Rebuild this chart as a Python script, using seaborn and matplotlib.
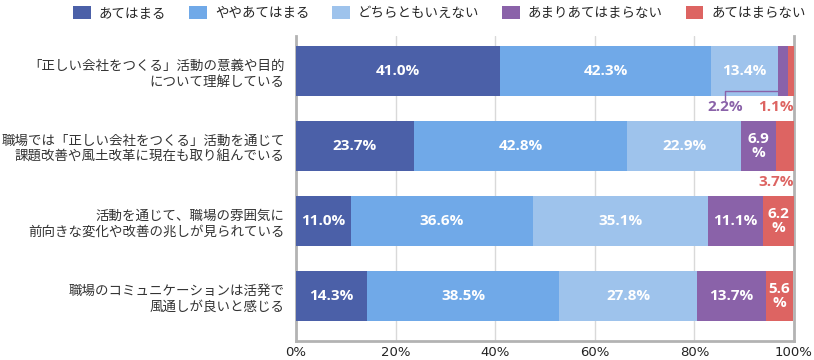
import numpy as np
import pandas as pd
import matplotlib
matplotlib.use("Agg")
import matplotlib.pyplot as plt
import seaborn as sns
from matplotlib.patches import Patch

categories = [
    "「正しい会社をつくる」活動の意義や目的\nについて理解している",
    "職場では「正しい会社をつくる」活動を通じて\n課題改善や風土改革に現在も取り組んでいる",
    "活動を通じて、職場の雰囲気に\n前向きな変化や改善の兆しが見られている",
    "職場のコミュニケーションは活発で\n風通しが良いと感じる",
]
series = ["あてはまる", "ややあてはまる", "どちらともいえない", "あまりあてはまらない", "あてはまらない"]
colors = ["#4b60a8", "#70a9e8", "#9ec3ec", "#8a62a9", "#dd6462"]

atehamaru = [41.0, 23.7, 11.0, 14.3]
yaya = [42.3, 42.8, 36.6, 38.5]
dochira = [13.4, 22.9, 35.1, 27.8]
amari = [2.2, 6.9, 11.1, 13.7]
atehamaranai = [1.1, 3.7, 6.2, 5.6]

xticks = [0, 20, 40, 60, 80, 100]
xticklabels = ["0%", "20%", "40%", "60%", "80%", "100%"]

sns.set_theme(style="white")
plt.rcParams['font.family'] = ['Noto Sans CJK JP', 'DejaVu Sans']
num_font = ['Open Sans', 'DejaVu Sans']
lbl_size = 11

values = np.array([atehamaru, yaya, dochira, amari, atehamaranai])
cum = values.cumsum(axis=0)

fig = plt.figure(figsize=(8.14, 3.6), dpi=100)
ax = fig.add_axes([0.3636, 0.053, 0.6118, 0.847])

# stacked bars: draw cumulative totals from the largest down
for i in range(len(series) - 1, -1, -1):
    df = pd.DataFrame({"cat": categories, "val": cum[i]})
    sns.barplot(data=df, x="val", y="cat", orient="h", color=colors[i],
                saturation=1, width=0.66, linewidth=0, ax=ax, zorder=3)

# labels inside segments
for i in range(len(series)):
    for j in range(len(categories)):
        v = values[i, j]
        start = cum[i, j] - v
        mid = start + v / 2
        if v >= 10:
            ax.text(mid, j, f"{v:.1f}%", ha="center", va="center", color="white",
                    fontsize=lbl_size, fontweight="bold", family=num_font, zorder=5)
        elif v >= 5:
            ax.text(mid, j, f"{v:.1f}\n%", ha="center", va="center", color="white",
                    fontsize=lbl_size, fontweight="bold", family=num_font,
                    linespacing=1.0, zorder=5)

# small values outside the bars
ax.text(86.2, 0.48, "2.2%", ha="center", va="center", color=colors[3],
        fontsize=lbl_size, fontweight="bold", family=num_font)
ax.plot([86.2, 86.2, 96.7], [0.39, 0.27, 0.27], color=colors[3], lw=1, zorder=6)
ax.text(99.9, 0.48, "1.1%", ha="right", va="center", color=colors[4],
        fontsize=lbl_size, fontweight="bold", family=num_font)
ax.text(99.9, 1.48, "3.7%", ha="right", va="center", color=colors[4],
        fontsize=lbl_size, fontweight="bold", family=num_font)

ax.set_xlim(0, 100)
ax.set_ylim(3.6, -0.47)
ax.set_xticks(xticks)
ax.set_xticklabels(xticklabels, fontsize=9.5, color="#222222", family=['DejaVu Sans'])
ax.set_xlabel("")
ax.set_ylabel("")
ax.tick_params(axis="y", length=0, pad=8, labelsize=9.7, labelcolor="#333333")
ax.tick_params(axis="x", length=0, pad=4)
for lbl in ax.get_yticklabels():
    lbl.set_multialignment("right")

ax.grid(axis="x", color="#d9d9d9", lw=1, zorder=0)
ax.set_axisbelow(True)
ax.spines["top"].set_visible(False)
for s in ["left", "right", "bottom"]:
    ax.spines[s].set_color("#b3b3b3")
    ax.spines[s].set_linewidth(2)

handles = [Patch(facecolor=c, edgecolor="none") for c in colors]
fig.legend(handles, series, loc="center", bbox_to_anchor=(0.54, 0.965), ncol=5,
           frameon=False, fontsize=9.7, handlelength=1.3, handleheight=1.1,
           columnspacing=1.7, handletextpad=0.6)

fig.savefig("out.png", dpi=100)
